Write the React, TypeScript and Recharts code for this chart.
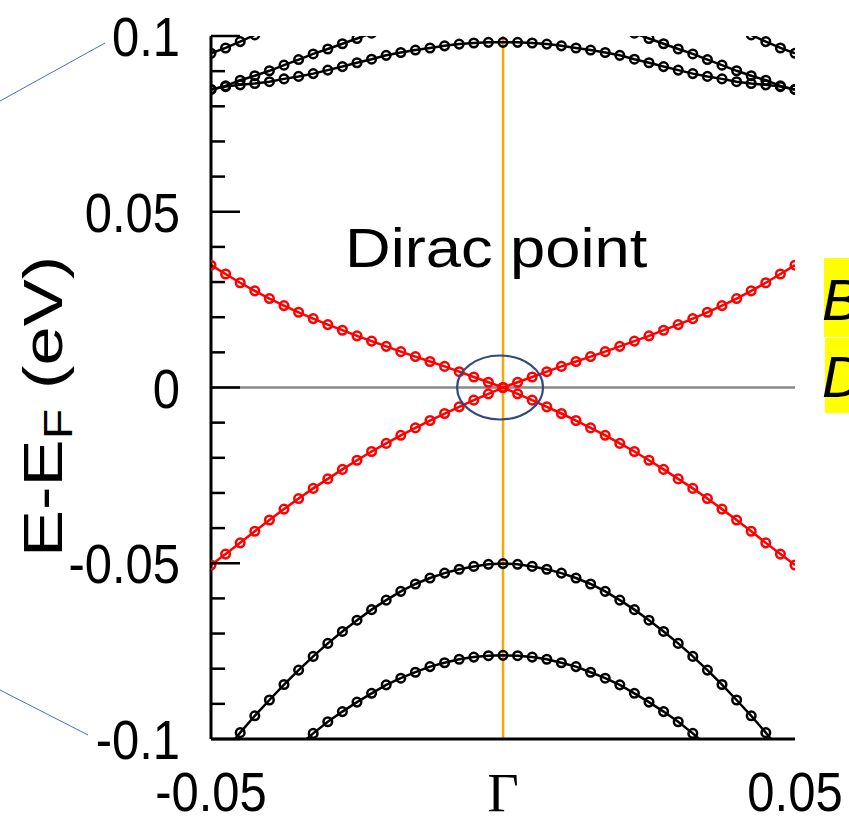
import { LineChart, Line, XAxis, YAxis, ReferenceLine, ReferenceDot } from 'recharts';

// k along the cut (Γ at 0)
const K = [-0.05, -0.0475, -0.045, -0.0425, -0.04, -0.0375, -0.035, -0.0325, -0.03, -0.0275, -0.025, -0.0225, -0.02, -0.0175, -0.015, -0.0125, -0.01, -0.0075, -0.005, -0.0025, 0, 0.0025, 0.005, 0.0075, 0.01, 0.0125, 0.015, 0.0175, 0.02, 0.0225, 0.025, 0.0275, 0.03, 0.0325, 0.035, 0.0375, 0.04, 0.0425, 0.045, 0.0475, 0.05];

// Dirac cone (red)
const RED_UPPER = [0.0348, 0.0323, 0.0298, 0.0275, 0.0253, 0.0233, 0.0214, 0.0196, 0.0179, 0.0163, 0.0147, 0.0132, 0.0117, 0.0102, 0.0088, 0.0074, 0.006, 0.0045, 0.003, 0.0015, 0, 0.0015, 0.003, 0.0045, 0.006, 0.0074, 0.0088, 0.0102, 0.0117, 0.0132, 0.0147, 0.0163, 0.0179, 0.0196, 0.0214, 0.0233, 0.0253, 0.0275, 0.0298, 0.0323, 0.0348];
const RED_LOWER = [-0.0505, -0.0474, -0.0442, -0.0409, -0.0377, -0.0346, -0.0316, -0.0287, -0.026, -0.0233, -0.0207, -0.0182, -0.0159, -0.0136, -0.0115, -0.0094, -0.0074, -0.0055, -0.0036, -0.0018, 0, -0.0018, -0.0036, -0.0055, -0.0074, -0.0094, -0.0115, -0.0136, -0.0159, -0.0182, -0.0207, -0.0233, -0.026, -0.0287, -0.0316, -0.0346, -0.0377, -0.0409, -0.0442, -0.0474, -0.0505];

// black valence bands
const VB1 = [null, -0.1033, -0.0982, -0.0934, -0.0889, -0.0845, -0.0804, -0.0765, -0.0728, -0.0694, -0.0662, -0.0632, -0.0605, -0.058, -0.0559, -0.0542, -0.0528, -0.0517, -0.0509, -0.0503, -0.0501, -0.0503, -0.0509, -0.0517, -0.0528, -0.0542, -0.0559, -0.058, -0.0605, -0.0632, -0.0662, -0.0694, -0.0728, -0.0765, -0.0804, -0.0845, -0.0889, -0.0934, -0.0982, -0.1033, null];
const VB2 = [null, null, null, null, null, null, -0.102, -0.0984, -0.0951, -0.0922, -0.0895, -0.087, -0.0846, -0.0827, -0.081, -0.0794, -0.0783, -0.0773, -0.0767, -0.0763, -0.0762, -0.0763, -0.0767, -0.0773, -0.0783, -0.0794, -0.081, -0.0827, -0.0846, -0.087, -0.0895, -0.0922, -0.0951, -0.0984, -0.102, null, null, null, null, null, null];

// black conduction bands
const CB_A = [0.0848, 0.0856, 0.0861, 0.0865, 0.087, 0.0878, 0.0885, 0.0893, 0.0903, 0.0913, 0.0924, 0.0934, 0.0945, 0.0953, 0.096, 0.0966, 0.0972, 0.0977, 0.098, 0.0982, 0.0982, 0.0982, 0.098, 0.0977, 0.0972, 0.0966, 0.096, 0.0953, 0.0945, 0.0934, 0.0924, 0.0913, 0.0903, 0.0893, 0.0885, 0.0878, 0.087, 0.0865, 0.0861, 0.0856, 0.0848];
const CB_B = [0.0848, 0.0858, 0.0874, 0.0887, 0.0901, 0.0917, 0.0933, 0.0949, 0.0963, 0.0978, 0.0993, 0.1008, null, null, null, null, null, null, null, null, null, null, null, null, null, null, null, null, null, 0.1008, 0.0993, 0.0978, 0.0963, 0.0949, 0.0933, 0.0917, 0.0901, 0.0887, 0.0874, 0.0858, 0.0848];
const CB_C = [0.0951, 0.0966, 0.0984, 0.1003, null, null, null, null, null, null, null, null, null, null, null, null, null, null, null, null, null, null, null, null, null, null, null, null, null, null, null, null, null, null, null, null, null, 0.1003, 0.0984, 0.0966, 0.0951];

const X_TICKS = [-0.05, 0, 0.05];
const X_LABELS = ['-0.05', 'Γ', '0.05'];
const Y_TICKS = [-0.1, -0.09, -0.08, -0.07, -0.06, -0.05, -0.04, -0.03, -0.02, -0.01, 0, 0.01, 0.02, 0.03, 0.04, 0.05, 0.06, 0.07, 0.08, 0.09, 0.1];
const Y_MAJOR = [-0.1, -0.05, 0, 0.05, 0.1];
const Y_LABELS = ['-0.1', '-0.05', '0', '0.05', '0.1'];

const data = K.map((k, i) => ({
  k,
  redUp: RED_UPPER[i],
  redLo: RED_LOWER[i],
  vb1: VB1[i],
  vb2: VB2[i],
  cbA: CB_A[i],
  cbB: CB_B[i],
  cbC: CB_C[i],
}));

const SANS = '"Liberation Sans", Arial, sans-serif';
const SERIF = '"Liberation Serif", "Times New Roman", serif';

const majorIndex = (v: number) => Y_MAJOR.findIndex((m) => Math.abs(m - v) < 1e-9);

const LeftTick = ({ x, y, payload }: any) => {
  const idx = majorIndex(payload.value);
  return (
    <g>
      <line x1={x} x2={x + (idx >= 0 ? 29 : 14)} y1={y} y2={y} stroke="#000" strokeWidth={2.5} />
      {idx >= 0 && (
        <text transform={`translate(${x - 31},${y + 20}) scale(0.89,1)`} textAnchor="end" fontSize={55} fontFamily={SANS} fill="#000">
          {Y_LABELS[idx]}
        </text>
      )}
    </g>
  );
};

const RightTick = ({ x, y, payload }: any) => {
  const idx = majorIndex(payload.value);
  return <line x1={x} x2={x - (idx >= 0 ? 29 : 14)} y1={y} y2={y} stroke="#000" strokeWidth={2.5} />;
};

const BottomTick = ({ x, y, payload }: any) => {
  const idx = X_TICKS.findIndex((t) => Math.abs(t - payload.value) < 1e-9);
  if (idx === 1) {
    return (
      <text x={x} y={y + 72} textAnchor="middle" fontSize={54} fontFamily={SERIF} fill="#000">
        {X_LABELS[idx]}
      </text>
    );
  }
  return (
    <text transform={`translate(${x},${y + 72}) scale(0.89,1)`} textAnchor="middle" fontSize={55} fontFamily={SANS} fill="#000">
      {X_LABELS[idx]}
    </text>
  );
};

const dotStyle = (c: string) => ({ r: 4.3, stroke: c, strokeWidth: 2.5, fill: 'none' });

const bandLine = (key: string, color: string) => (
  <Line key={key} type="linear" dataKey={key} stroke={color} strokeWidth={2.5} dot={dotStyle(color)} activeDot={false} isAnimationActive={false} />
);

const App = () => {
  return (
    <div style={{ position: 'absolute', left: 0, top: 0, width: 849, height: 819, background: '#fff' }}>
      <LineChart width={849} height={819} data={data} margin={{ top: 36, right: 54, bottom: 0, left: 31 }}>
        <XAxis dataKey="k" type="number" domain={[-0.05, 0.05]} ticks={X_TICKS} allowDataOverflow
          axisLine={{ stroke: '#000', strokeWidth: 3 }} tickLine={false} tickSize={0} tickMargin={0} height={80} interval={0} tick={<BottomTick />} />
        <XAxis xAxisId="top" orientation="top" dataKey="k" type="number" domain={[-0.05, 0.05]} allowDataOverflow
          axisLine={{ stroke: '#000', strokeWidth: 3 }} tickLine={false} tick={false} height={0} />
        <YAxis type="number" domain={[-0.1, 0.1]} ticks={Y_TICKS} allowDataOverflow interval={0} width={180}
          axisLine={{ stroke: '#000', strokeWidth: 3 }} tickLine={false} tickSize={0} tickMargin={0} tick={<LeftTick />} />
        <YAxis yAxisId="right" orientation="right" type="number" domain={[-0.1, 0.1]} ticks={Y_TICKS} allowDataOverflow interval={0} width={0}
          axisLine={{ stroke: '#000', strokeWidth: 3 }} tickLine={false} tickSize={0} tickMargin={0} tick={<RightTick />} />

        <ReferenceLine y={0} stroke="#888888" strokeWidth={2.5} />
        <ReferenceLine x={0} stroke="#FFA500" strokeWidth={2.5} />

        {bandLine('vb1', '#000')}
        {bandLine('vb2', '#000')}
        {bandLine('cbA', '#000')}
        {bandLine('cbB', '#000')}
        {bandLine('cbC', '#000')}
        {bandLine('redUp', '#ff0000')}
        {bandLine('redLo', '#ff0000')}

        <ReferenceDot x={-0.0005} y={0} r={0}
          shape={(p: any) => <ellipse cx={p.cx} cy={p.cy} rx={43} ry={32} fill="none" stroke="#2F4A7F" strokeWidth={2.2} />} />
      </LineChart>

      <svg width={849} height={819} style={{ position: 'absolute', left: 0, top: 0, pointerEvents: 'none' }}>
        <line x1={0} y1={101} x2={105} y2={43} stroke="#4A6CC0" strokeWidth={1} />
        <line x1={0} y1={690} x2={88} y2={735} stroke="#4A6CC0" strokeWidth={1} />
        <text transform="translate(62,557) rotate(-90) scale(1.26,1)" fontSize={56} fontFamily={SANS} fill="#000">
          E-E<tspan fontSize={40} dy={10}>F</tspan><tspan dy={-10}> (eV)</tspan>
        </text>
        <text transform="translate(345,267) scale(1.15,1)" fontSize={55} fontFamily={SANS} fill="#000">Dirac point</text>
        <rect x={824} y={258} width={25} height={79} fill="#FFFF00" />
        <rect x={825} y={338} width={24} height={75} fill="#FFFF00" />
        <text x={822} y={320} fontSize={57} fontStyle="italic" fontFamily={SANS} fill="#000">B</text>
        <text x={822} y={397} fontSize={57} fontStyle="italic" fontFamily={SANS} fill="#000">D</text>
      </svg>
    </div>
  );
};

export default App;
